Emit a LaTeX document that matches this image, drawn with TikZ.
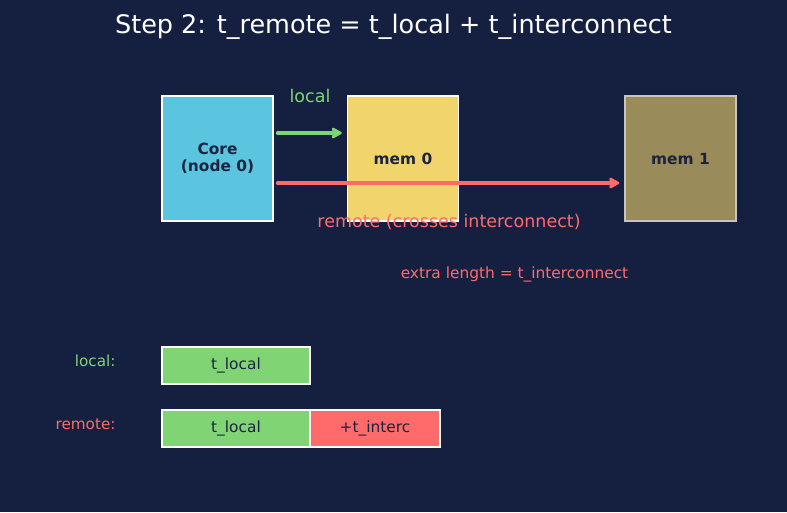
\documentclass[tikz,border=0pt]{standalone}
\usepackage{fontspec}
\setmainfont{DejaVu Sans}
\usetikzlibrary{arrows.meta}
\definecolor{bg}{HTML}{152040}
\definecolor{corec}{HTML}{5BC4DF}
\definecolor{memc}{HTML}{F2D46C}
\definecolor{memdim}{HTML}{9A8B5A}
\definecolor{dimborder}{HTML}{C8C6BC}
\definecolor{gr}{HTML}{80D474}
\definecolor{rd}{HTML}{FF6B6B}
\definecolor{dk}{HTML}{1A2340}
\tikzset{
  box/.style={draw=white, line width=1.5pt, minimum width=111pt, minimum height=125pt, inner sep=0pt, font=\fontsize{15.4}{17}\selectfont\bfseries, text=dk, align=center},
  bar/.style={draw=white, line width=1.5pt, minimum height=37pt, inner sep=0pt, font=\fontsize{15.4}{18}\selectfont, text=dk},
  lbl/.style={font=\fontsize{15.2}{18}\selectfont, anchor=east},
  arr/.style={line width=4pt, line cap=round, -{Stealth[length=12pt,width=13pt,inset=2pt,round]}},
}
\begin{document}
\begin{tikzpicture}[x=1pt,y=-1pt]
\fill[bg] (0,0) rectangle (787,512);
\useasboundingbox (0,0) rectangle (787,512);
\node[text=white, font=\fontsize{25.5}{30}\selectfont] (title) at (393.5,26.5) {Step 2: t\_remote = t\_local + t\_interconnect};
\node[box, fill=corec] (core) at (217.5,158.5) {Core\\(node 0)};
\node[box, fill=memc] (mem0) at (403,158.5) {mem 0};
\node[box, fill=memdim, draw=dimborder] (mem1) at (680.5,158.5) {mem 1};
\coordinate (ga) at (core.east |- 0,133);
\coordinate (gb) at ([xshift=-5pt]mem0.west |- 0,133);
\draw[gr, arr] ([xshift=4pt]ga) -- (gb);
\node[text=gr, font=\fontsize{17.5}{20}\selectfont] (llocal) at (310,96) {local};
\coordinate (ra) at (core.east |- 0,183);
\coordinate (rb) at ([xshift=-5pt]mem1.west |- 0,183);
\draw[rd, arr] ([xshift=4pt]ra) -- (rb);
\node[text=rd, font=\fontsize{17.5}{20}\selectfont] (lremote) at (449,222) {remote (crosses interconnect)};
\node[text=rd, font=\fontsize{15.4}{18}\selectfont] (extra) at (514.5,274) {extra length = t\_interconnect};
\node[lbl, text=gr] (l1) at (119,361) {local:};
\node[lbl, text=rd] (l2) at (119,424) {remote:};
\node[bar, fill=gr, minimum width=148pt] (b1) at (236,365.5) {t\_local};
\node[bar, fill=gr, minimum width=148pt] (b2) at (236,428.5) {t\_local};
\node[bar, fill=rd, minimum width=130pt] (b3) at (375,428.5) {+t\_interc};
\end{tikzpicture}
\end{document}
